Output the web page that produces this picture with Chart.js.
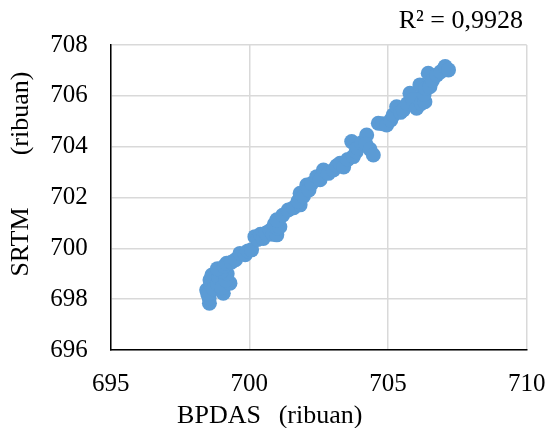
<!DOCTYPE html>
<html>
<head>
<meta charset="utf-8">
<script src="https://cdn.jsdelivr.net/npm/chart.js@4/dist/chart.umd.min.js"></script>
<style>
  html, body { margin: 0; padding: 0; background: #fff; }
  #wrap { width: 550px; height: 428px; }
</style>
</head>
<body>
<div id="wrap"><canvas id="myChartScatter"></canvas></div>
<script>
// values (ribuan)
var bpdas = [
  698.56, 698.55, 698.46, 698.50, 698.60, 698.58, 698.70, 698.75, 698.65, 698.85,
  698.90, 699.06, 699.00, 699.30, 699.15, 699.20, 699.00, 698.85, 699.10, 699.18,
  699.35, 699.50, 699.66, 699.85, 699.95, 700.08, 700.20, 700.30, 700.40, 700.50,
  700.60, 700.75, 700.85, 700.99, 700.90, 701.00, 701.10, 700.99, 701.20, 701.40,
  701.60, 701.83, 701.75, 701.83, 701.95, 702.07, 702.15, 702.25, 702.43, 702.55,
  702.67, 702.85, 703.03, 703.15, 703.27, 703.40, 703.55, 703.75, 703.85, 703.69,
  703.90, 704.05, 704.23, 704.20, 704.35, 704.47, 704.65, 704.80, 704.95, 705.10,
  705.19, 705.31, 705.45, 705.55, 705.70, 705.79, 705.90, 706.03, 706.20, 706.33,
  706.30, 706.15, 706.35, 706.51, 706.45, 706.60, 706.76, 706.90, 707.06, 707.18
];
var srtm = [
  697.84, 698.05, 698.36, 698.20, 698.55, 698.75, 698.40, 698.90, 698.95, 698.60,
  698.85, 698.23, 698.45, 698.63, 698.75, 699.00, 699.10, 699.20, 699.30, 699.41,
  699.45, 699.55, 699.80, 699.75, 699.90, 699.94, 700.46, 700.35, 700.55, 700.39,
  700.60, 700.70, 700.55, 700.53, 700.95, 700.80, 700.85, 701.12, 701.30, 701.51,
  701.60, 701.71, 701.85, 702.17, 702.05, 702.49, 702.30, 702.55, 702.82, 702.70,
  703.08, 702.95, 703.08, 703.25, 703.35, 703.20, 703.50, 703.61, 703.80, 704.20,
  703.95, 704.15, 704.46, 704.10, 703.90, 703.67, 704.92, 704.90, 704.85, 705.05,
  705.25, 705.57, 705.35, 705.44, 705.70, 706.10, 705.85, 705.51, 705.70, 705.77,
  706.05, 706.43, 706.30, 706.36, 706.89, 706.60, 706.82, 706.95, 707.15, 707.02
];
var rSquared = 'R² = 0,9928';
var xTitle = ['BPDAS', '(ribuan)'];
var yTitle = ['SRTM', '(ribuan)'];

var xMin = 695, xMax = 710, xStep = 5;
var yMin = 696, yMax = 708, yStep = 2;

var points = [];
for (var i = 0; i < bpdas.length; i++) {
  points.push({ x: bpdas[i], y: srtm[i] });
}

var serif = "'Liberation Serif', 'Times New Roman', serif";

// R² and the two axis titles, placed like the original
var labels = {
  id: 'labels',
  afterDraw: function (chart) {
    var c = chart.ctx;
    c.save();
    c.fillStyle = '#000';
    c.font = '26px ' + serif;
    c.textBaseline = 'alphabetic';

    c.textAlign = 'right';
    c.fillText(rSquared, 523, 28);

    c.textAlign = 'center';
    c.fillText(xTitle[0], 219, 423);
    c.fillText(xTitle[1], 320.5, 423);

    c.translate(28, 0);
    c.rotate(-Math.PI / 2);
    c.fillText(yTitle[0], -242, 0);
    c.fillText(yTitle[1], -113.5, 0);
    c.restore();
  }
};

var ctx = document.getElementById('myChartScatter').getContext('2d');
var myChartScatter = new Chart(ctx, {
  type: 'scatter',
  data: {
    datasets: [{
      label: 'SRTM',
      data: points,
      backgroundColor: '#5B9BD5',
      borderWidth: 0,
      pointRadius: 7.5,
      pointHoverRadius: 7.5
    }]
  },
  options: {
    responsive: true,
    maintainAspectRatio: false,
    animation: false,
    layout: { padding: { top: 45, right: 23.3, left: 0, bottom: 0 } },
    plugins: {
      legend: { display: false },
      tooltip: { enabled: false }
    },
    scales: {
      x: {
        type: 'linear',
        min: xMin, max: xMax,
        ticks: { stepSize: xStep, color: '#000', font: { family: serif, size: 25 }, padding: 19 },
        grid: { color: '#d9d9d9', lineWidth: 1.5, drawTicks: false },
        border: { color: '#000', width: 1.5 },
        afterFit: function (scale) {
          scale.height = 78;
          scale.paddingLeft = 0;
          scale.paddingRight = 0;
        }
      },
      y: {
        type: 'linear',
        min: yMin, max: yMax,
        ticks: { stepSize: yStep, color: '#000', font: { family: serif, size: 25 }, padding: 23 },
        grid: { color: '#d9d9d9', lineWidth: 1.5, drawTicks: false },
        border: { color: '#000', width: 1.5 },
        afterFit: function (scale) {
          scale.width = 110.7;
          scale.paddingTop = 0;
          scale.paddingBottom = 0;
        }
      }
    }
  },
  plugins: [labels]
});
</script>
</body>
</html>
